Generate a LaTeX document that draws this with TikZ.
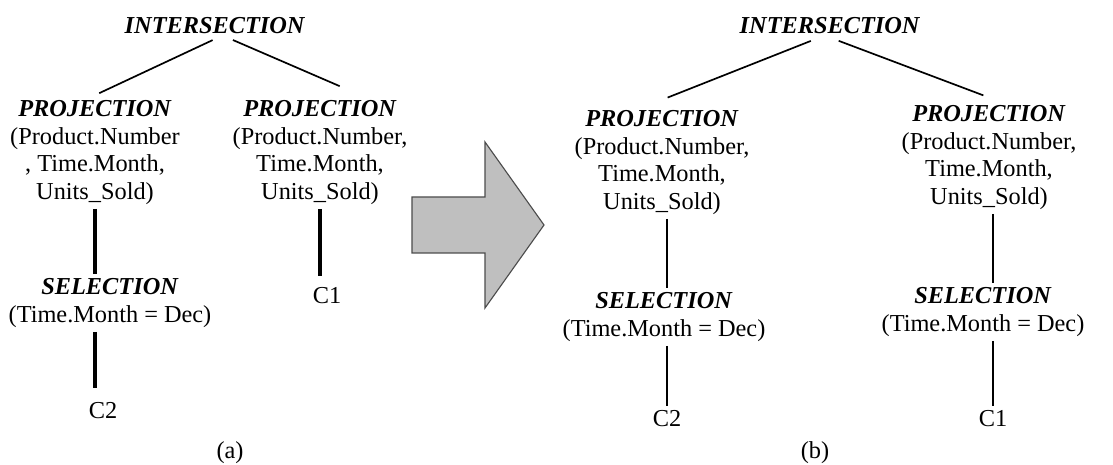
\documentclass[tikz,border=0pt]{standalone}
\usepackage{fontspec}
\setmainfont{Liberation Serif}
\usepackage{tikz}

\newcommand{\opname}[1]{\textbf{\textit{#1}}}

\begin{document}
\begin{tikzpicture}[x=0.025cm, y=-0.025cm,
        every node/.style={font=\fontsize{17.3}{19.6}\selectfont, inner sep=3pt},
        op/.style={anchor=north, align=center},
        link/.style={line width=1.2pt},
        stem/.style={line width=2.4pt},
        thinstem/.style={line width=1.6pt},
        bigarrow/.style={fill=gray!50, draw=gray!60!black, line width=0.8pt}]
        \useasboundingbox (0,0) rectangle (1113,465);
        \node[op] (int_a) at (215,13) {\opname{INTERSECTION}};
        \node[op] (proj_a1) at (95,96) {\opname{PROJECTION}\\(Product.Number\\, Time.Month,\\Units\_Sold)};
        \node[op] (proj_a2) at (320,96) {\opname{PROJECTION}\\(Product.Number,\\Time.Month,\\Units\_Sold)};
        \node[op] (sel_a1) at (110,274) {\opname{SELECTION}\\(Time.Month = Dec)};
        \node[op] (c2_a) at (103,398) {C2};
        \node[op] (c1_a) at (327,283) {C1};
        \node[anchor=base] (cap_a) at (230,459) {(a)};
        \draw[link, shorten <=3pt] ([xshift=1pt]int_a.south) -- ([xshift=3pt,yshift=2pt]proj_a1.north);
        \draw[link, shorten <=3pt] ([xshift=10pt]int_a.south) -- ([xshift=14pt,yshift=7pt]proj_a2.north);
        \draw[stem] (proj_a1.south) -- (proj_a1.south |- sel_a1.north);
        \draw[stem, shorten >=7pt] (proj_a1.south |- sel_a1.south) -- (proj_a1.south |- c2_a.north);
        \draw[stem, shorten >=5pt] (proj_a2.south) -- (proj_a2.south |- c1_a.north);
        \draw[bigarrow] (412,197) -- (485,197) -- (485,142) -- (544,225) -- (485,308) -- (485,253) -- (412,253) -- cycle;
        \node[op] (int_b) at (830,13) {\opname{INTERSECTION}};
        \node[op] (proj_b1) at (662,106) {\opname{PROJECTION}\\(Product.Number,\\Time.Month,\\Units\_Sold)};
        \node[op] (proj_b2) at (989,101) {\opname{PROJECTION}\\(Product.Number,\\Time.Month,\\Units\_Sold)};
        \node[op] (sel_b1) at (664,288) {\opname{SELECTION}\\(Time.Month = Dec)};
        \node[op] (sel_b2) at (983,283) {\opname{SELECTION}\\(Time.Month = Dec)};
        \node[op] (c2_b) at (667,406) {C2};
        \node[op] (c1_b) at (993,406) {C1};
        \node[anchor=base] (cap_b) at (815,459) {(b)};
        \draw[link, shorten <=5pt] ([xshift=-9pt]int_b.south) -- ([xshift=4pt,yshift=6pt]proj_b1.north);
        \draw[link, shorten <=5pt] ([xshift=1.5pt]int_b.south) -- ([xshift=-4pt,yshift=4pt]proj_b2.north);
        \draw[thinstem] (c2_b |- proj_b1.south) -- (c2_b |- sel_b1.north);
        \draw[thinstem] (c2_b |- sel_b1.south) -- (c2_b.north);
        \draw[thinstem] (c1_b |- proj_b2.south) -- (c1_b |- sel_b2.north);
        \draw[thinstem] (c1_b |- sel_b2.south) -- (c1_b.north);
\end{tikzpicture}
\end{document}
